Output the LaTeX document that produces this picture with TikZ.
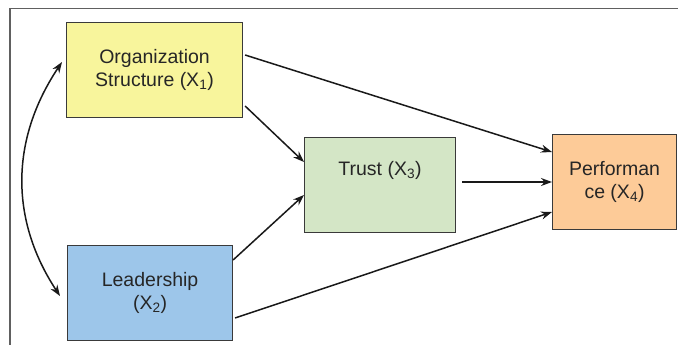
\documentclass[tikz,border=0pt]{standalone}
\usepackage{fontspec}
\setmainfont{Liberation Sans}
\usetikzlibrary{arrows.meta,calc}
\definecolor{orgfill}{HTML}{F8F59C}
\definecolor{leadfill}{HTML}{9DC6EA}
\definecolor{trustfill}{HTML}{D4E6C6}
\definecolor{perffill}{HTML}{FDCB98}
\definecolor{edgegray}{HTML}{3A3A3A}
\definecolor{framegray}{HTML}{606060}
\tikzset{
  box/.style={draw=edgegray, line width=1.1pt, inner sep=0pt, anchor=north west,
    align=center, font=\fontsize{19.5}{23}\selectfont, text=black!85},
  link/.style={draw=black!90, line width=1.5pt, -{Stealth[length=11pt,width=8pt]}},
}
\begin{document}
\begin{tikzpicture}[x=1pt,y=-1pt]
  \useasboundingbox (0,0) rectangle (678,345);
  % outer frame (top and left edges)
  \draw[framegray, line width=1.4pt] (678,8.5) -- (10,8.5) -- (10,345);
  % boxes
  \node[box, fill=orgfill, minimum width=176pt, minimum height=95pt] (org) at (66,22)
    {Organization\\Structure (X\textsubscript{1})};
  \node[box, fill=leadfill, minimum width=165pt, minimum height=95pt] (lead) at (67,245)
    {Leadership\\(X\textsubscript{2})};
  \node[box, fill=trustfill, minimum width=151pt, minimum height=95pt, text depth=34pt] (trust) at (304,137)
    {Trust (X\textsubscript{3})};
  \node[box, fill=perffill, minimum width=124pt, minimum height=95pt] (perf) at (552,134)
    {Performan\\ce (X\textsubscript{4})};
  % connector end points
  \coordinate (o1) at ($(org.north east)+(2,33)$);
  \coordinate (o2) at ($(org.north east)+(2,84)$);
  \coordinate (l1) at ($(lead.north east)+(0,15)$);
  \coordinate (l2) at ($(lead.north east)+(2,73)$);
  \coordinate (t1) at ($(trust.north west)+(0,25)$);
  \coordinate (t2) at ($(trust.north west)+(0,58)$);
  \coordinate (tr) at ($(trust.north east)+(6,45)$);
  \coordinate (p1) at ($(perf.north west)+(0,18)$);
  \coordinate (p2) at ($(perf.north west)+(0,48)$);
  \coordinate (p3) at ($(perf.north west)+(0,78)$);
  \coordinate (ca) at ($(org.north west)+(-4,40)$);
  \coordinate (cb) at ($(lead.north west)+(-7,51)$);
  % paths
  \draw[link] (o1) -- (p1);
  \draw[link] (o2) -- (t1);
  \draw[link] (l1) -- (t2);
  \draw[link] (l2) -- (p3);
  \draw[link] (tr) -- (p2);
  \draw[link, {Stealth[length=11pt,width=8pt]}-{Stealth[length=11pt,width=8pt]}]
    (ca) .. controls (10,140) and (10,220) .. (cb);
\end{tikzpicture}
\end{document}
